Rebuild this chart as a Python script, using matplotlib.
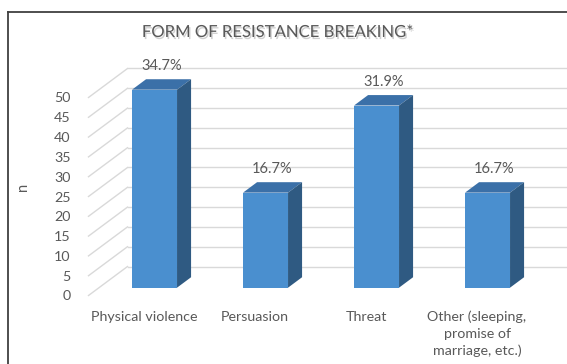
import numpy as np
import matplotlib
matplotlib.use("Agg")
from matplotlib import pyplot as plt
from matplotlib.patches import Polygon
from matplotlib.lines import Line2D
import matplotlib.patheffects as pe

# data
categories = ["Physical violence", "Persuasion", "Threat",
              "Other (sleeping,\npromise of\nmarriage, etc.)"]
counts = [50, 24, 46, 24]
percent_labels = ["34.7%", "16.7%", "31.9%", "16.7%"]
y_ticks = list(range(0, 55, 5))

plt.rcParams['font.family'] = ['Lato', 'DejaVu Sans']
grey_text = '#595959'
grid_col = '#d9d9d9'
c_front = '#4a8fcf'
c_top = '#3b70a8'
c_side = '#2f5a82'

fig = plt.figure(figsize=(5.67, 3.64), dpi=100)
# axes = front plane of the 3d box
ax = fig.add_axes([88.5 / 567, (364 - 295.5) / 364, 444 / 567, 237.6 / 364])
ax.set_xlim(0, 4)
ax.set_ylim(0, 60)
for s in ax.spines.values():
    s.set_visible(False)

# depth of the box in data units
DX = 39 / 111
DY = 29 / 3.96

# back wall and side wall grid
for v in y_ticks:
    ax.plot([DX, 4 + DX], [v + DY, v + DY], color=grid_col, lw=1, zorder=1, clip_on=False)
    ax.plot([0, DX], [v, v + DY], color=grid_col, lw=1, zorder=1, clip_on=False)

# bars (front face + top + side)
f0 = 0.27      # depth where bar front sits
fd = 0.36      # bar depth
w = 45 / 111
x = np.arange(len(categories))
xl = x + 0.5 - w / 2 + f0 * DX
by = f0 * DY
ax.bar(xl, counts, width=w, bottom=by, align='edge', color=c_front, zorder=3)
ddx, ddy = fd * DX, fd * DY
for i, h in enumerate(counts):
    top = [(xl[i], by + h), (xl[i] + w, by + h),
           (xl[i] + w + ddx, by + h + ddy), (xl[i] + ddx, by + h + ddy)]
    side = [(xl[i] + w, by), (xl[i] + w + ddx, by + ddy),
            (xl[i] + w + ddx, by + h + ddy), (xl[i] + w, by + h)]
    ax.add_patch(Polygon(top, closed=True, color=c_top, zorder=3, lw=0))
    ax.add_patch(Polygon(side, closed=True, color=c_side, zorder=3, lw=0))
    ax.annotate(percent_labels[i], (xl[i] + w / 2 + ddx / 2, by + h + ddy / 2),
                xytext=(0, 13.5), textcoords='offset points', ha='center', va='center',
                fontsize=10.5, color=grey_text, zorder=5)

ax.set_xticks(x + 0.5)
ax.set_xticklabels(categories, linespacing=1.42)
ax.set_yticks(y_ticks)
ax.tick_params(length=0, labelsize=10.3, labelcolor=grey_text)
ax.tick_params(axis='x', pad=11)
ax.tick_params(axis='y', pad=13)
ax.set_ylabel('n', color=grey_text, fontsize=10.5)
ax.yaxis.set_label_coords((30 - 88.5) / 444, (295.5 - 187) / 237.6)

fig.text(277 / 567, 1 - 32 / 364, 'FORM OF RESISTANCE BREAKING*', ha='center', va='center',
         fontsize=12, color=grey_text,
         path_effects=[pe.withSimplePatchShadow(offset=(1, -1.5), shadow_rgbFace='#b0b0b0', alpha=0.6)])

# chart frame (cut at right and bottom)
fig.add_artist(Line2D([7.5 / 567, 7.5 / 567], [0, 1 - 12 / 364], color='#404040', lw=1.3))
fig.add_artist(Line2D([7.5 / 567, 1], [1 - 12 / 364, 1 - 12 / 364], color='#404040', lw=1.3))

fig.savefig('out.png', dpi=100)
